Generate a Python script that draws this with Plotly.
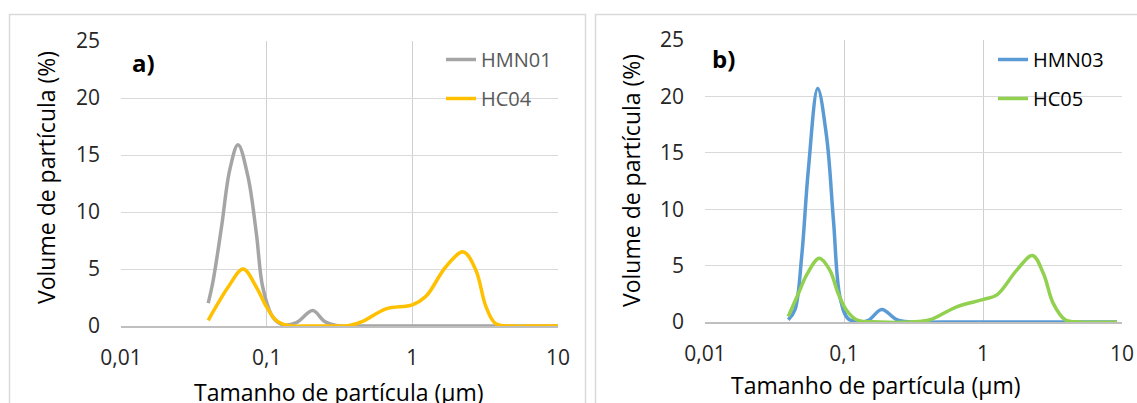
import plotly.graph_objects as go

W, H = 1137, 403

# ---------------- data ----------------
tick_vals = [0.01, 0.1, 1, 10]
tick_text = ["0,01", "0,1", "1", "10"]
y_ticks = [0, 5, 10, 15, 20, 25]

hmn01_size = [0.0397, 0.0428, 0.049, 0.0558, 0.0636, 0.0744, 0.085, 0.094, 0.110, 0.13,
              0.16, 0.207, 0.25, 0.30, 0.5, 1, 2, 5, 10]
hmn01_vol = [2.0, 3.9, 8.7, 13.7, 15.9, 13.1, 8.1, 3.4, 0.8, 0.1,
             0.3, 1.35, 0.4, 0.05, 0, 0, 0, 0, 0]

hc04_size = [0.0397, 0.0464, 0.0543, 0.0689, 0.085, 0.0996, 0.116, 0.14, 0.2, 0.3,
             0.37, 0.456, 0.66, 1.0, 1.24, 1.70, 2.24, 2.73, 3.2, 3.74, 5, 7, 10]
hc04_vol = [0.5, 2.0, 3.4, 5.0, 3.4, 1.7, 0.5, 0.05, 0, 0,
            0.05, 0.4, 1.5, 1.85, 2.6, 5.2, 6.5, 4.9, 1.7, 0.2, 0, 0, 0]

hmn03_size = [0.0397, 0.0444, 0.0496, 0.0554, 0.0647, 0.075, 0.084, 0.0936, 0.107, 0.13,
              0.15, 0.187, 0.24, 0.3, 0.5, 1, 2, 5, 9.2]
hmn03_vol = [0.2, 1.1, 5.8, 13.5, 20.7, 16.4, 9.0, 2.2, 0.3, 0,
             0.15, 1.1, 0.2, 0, 0, 0, 0, 0, 0]

hc05_size = [0.0397, 0.0469, 0.054, 0.0664, 0.079, 0.091, 0.104, 0.123, 0.18, 0.3,
             0.416, 0.647, 1.01, 1.26, 1.75, 2.27, 2.72, 3.2, 3.9, 5, 9.2]
hc05_vol = [0.5, 2.5, 4.2, 5.65, 4.6, 2.5, 1.06, 0.2, 0, 0,
            0.2, 1.35, 2.0, 2.4, 4.6, 5.9, 4.3, 1.65, 0.2, 0, 0]

x_title = "Tamanho de partícula (µm)"
y_title = "Volume de partícula (%)"

FONT = "Open Sans"
GRID = "#D9D9D9"
TXT = "#262626"

fig = go.Figure()

def add(x, y, name, color, xa, ya, legend, group):
    fig.add_trace(go.Scatter(
        x=x, y=y, name=name, mode="lines",
        line=dict(color=color, width=3.5, shape="spline", smoothing=1.0),
        xaxis=xa, yaxis=ya, legend=legend, legendgroup=group))

add(hmn01_size, hmn01_vol, "HMN01", "#A5A5A5", "x", "y", "legend", "a1")
add(hc04_size, hc04_vol, "HC04", "#FFC000", "x", "y", "legend", "a2")
add(hmn03_size, hmn03_vol, "HMN03", "#5B9BD5", "x2", "y2", "legend2", "b1")
add(hc05_size, hc05_vol, "HC05", "#92D050", "x2", "y2", "legend2", "b2")

def px(v):
    return v / W

def py(v):
    return 1 - v / H

xcommon = dict(type="log", range=[-2, 1], tickvals=tick_vals, ticktext=tick_text,
               showgrid=True, gridcolor="#D0D0D0", gridwidth=1, automargin=False,
               showline=True, linecolor="#BFBFBF", linewidth=1.5,
               ticks="", ticklabelstandoff=12,
               tickfont=dict(family=FONT, size=21, color=TXT), zeroline=False)
ycommon = dict(range=[0, 25], tickvals=y_ticks, showgrid=True, gridcolor=GRID, gridwidth=1,
               showline=False, ticks="", ticklabelstandoff=20, automargin=False,
               tickfont=dict(family=FONT, size=21, color=TXT), zeroline=False)

fig.update_layout(
    width=W, height=H,
    margin=dict(l=0, r=0, t=0, b=0, pad=0, autoexpand=False),
    paper_bgcolor="white", plot_bgcolor="white",
    showlegend=True,
    xaxis=dict(domain=[px(121), px(558)], anchor="y", **xcommon),
    yaxis=dict(domain=[py(326), py(41)], anchor="x", **ycommon),
    xaxis2=dict(domain=[px(705), px(1122)], anchor="y2", **xcommon),
    yaxis2=dict(domain=[py(322), py(40)], anchor="x2", **ycommon),
    legend=dict(x=px(441), y=py(40), xanchor="left", yanchor="top",
                bgcolor="rgba(0,0,0,0)", tracegroupgap=10,
                font=dict(family=FONT, size=20, color="#595959")),
    legend2=dict(x=px(993), y=py(40), xanchor="left", yanchor="top",
                 bgcolor="rgba(0,0,0,0)", tracegroupgap=10,
                 font=dict(family=FONT, size=20, color="#000000")),
    shapes=[
        dict(type="rect", xref="paper", yref="paper",
             x0=px(9.5), x1=px(585.5), y0=-0.2, y1=py(14.5),
             line=dict(color="#D9D9D9", width=1.5), layer="below"),
        dict(type="rect", xref="paper", yref="paper",
             x0=px(595.5), x1=1.2, y0=-0.2, y1=py(14.5),
             line=dict(color="#D9D9D9", width=1.5), layer="below"),
    ],
    annotations=[
        dict(text="<b>a)</b>", xref="paper", yref="paper", x=px(130), y=py(62),
             xanchor="left", yanchor="middle", showarrow=False,
             font=dict(family=FONT, size=24, color="#000000")),
        dict(text="<b>b)</b>", xref="paper", yref="paper", x=px(710), y=py(59),
             xanchor="left", yanchor="middle", showarrow=False,
             font=dict(family=FONT, size=24, color="#000000")),
        dict(text=y_title, xref="paper", yref="paper", x=px(46), y=py(178),
             xanchor="center", yanchor="middle", textangle=-90, showarrow=False,
             font=dict(family=FONT, size=23, color="#000000")),
        dict(text=y_title, xref="paper", yref="paper", x=px(631), y=py(181),
             xanchor="center", yanchor="middle", textangle=-90, showarrow=False,
             font=dict(family=FONT, size=23, color="#000000")),
        dict(text=x_title, xref="paper", yref="paper", x=px(339), y=py(392),
             xanchor="center", yanchor="middle", showarrow=False,
             font=dict(family=FONT, size=23, color="#000000")),
        dict(text=x_title, xref="paper", yref="paper", x=px(876), y=py(385),
             xanchor="center", yanchor="middle", showarrow=False,
             font=dict(family=FONT, size=23, color="#000000")),
    ],
)

fig.write_html(
    "out.html",
    config={"displayModeBar": False},
    post_script="document.body.style.margin='0';document.body.style.overflow='hidden';",
)
